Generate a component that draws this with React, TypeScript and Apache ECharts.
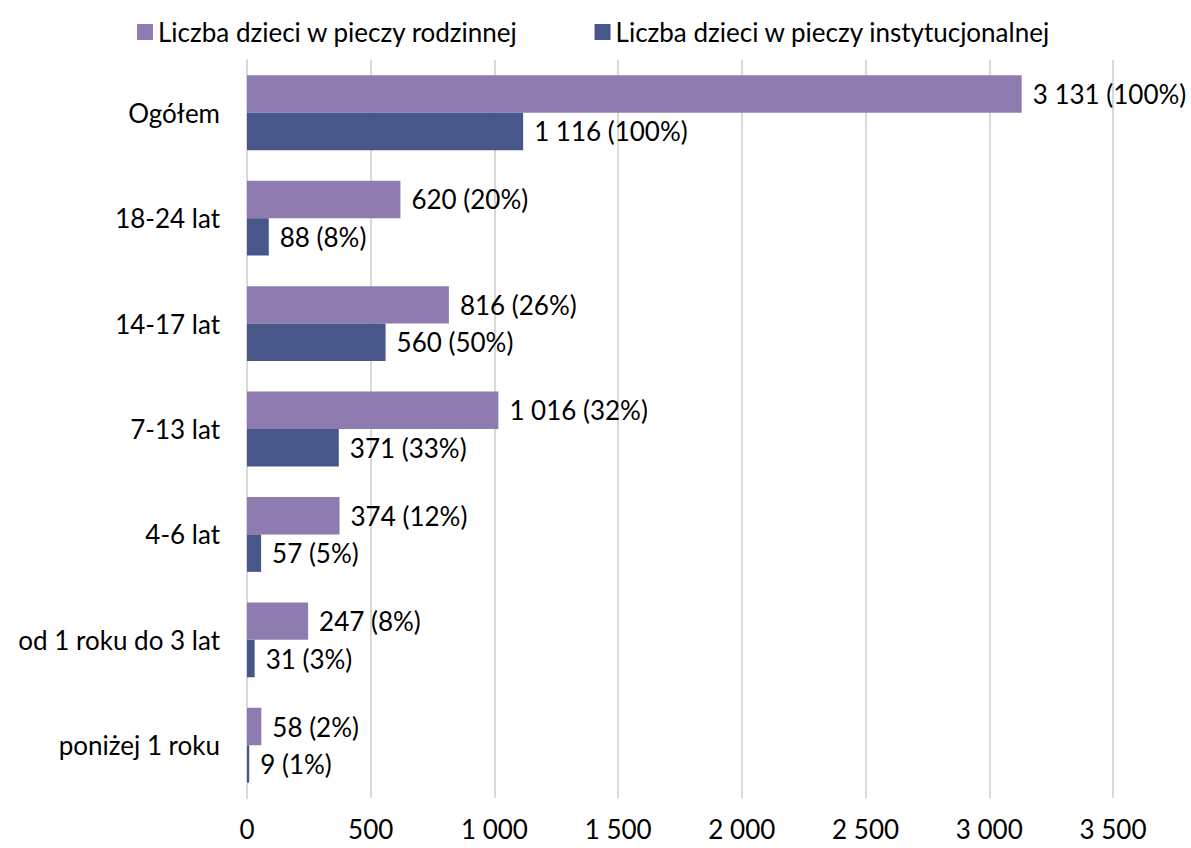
import React, { useEffect, useRef } from "react";
import * as echarts from "echarts";

const categories = ["Ogółem", "18-24 lat", "14-17 lat", "7-13 lat", "4-6 lat", "od 1 roku do 3 lat", "poniżej 1 roku"];
const familyValues = [3131, 620, 816, 1016, 374, 247, 58];
const familyPct = [100, 20, 26, 32, 12, 8, 2];
const instValues = [1116, 88, 560, 371, 57, 31, 9];
const instPct = [100, 8, 50, 33, 5, 3, 1];
const seriesNames = ["Liczba dzieci w pieczy rodzinnej", "Liczba dzieci w pieczy instytucjonalnej"];

const fmt = (v: number) => String(v).replace(/\B(?=(\d{3})+(?!\d))/g, " ");
const FONT = "Lato, 'Open Sans', sans-serif";
const FS = 26;

export default function App() {
  const ref = useRef<HTMLDivElement>(null);
  useEffect(() => {
    const chart = echarts.init(ref.current!, null, { renderer: "svg" });
    const mkLabel = (pcts: number[]) => ({
      show: true,
      position: "right" as const,
      distance: 11,
      color: "#000",
      fontSize: FS,
      fontFamily: FONT,
      formatter: (p: any) => `${fmt(p.value)} (${pcts[p.dataIndex]}%)`,
    });
    chart.setOption({
      animation: false,
      textStyle: { fontFamily: FONT },
      legend: {
        top: 14,
        left: 132,
        itemWidth: 16,
        itemHeight: 16,
        itemGap: 76,
        icon: "rect",
        textStyle: { fontSize: FS, color: "#000", fontFamily: FONT },
        data: seriesNames,
      },
      grid: { left: 247, right: 78, top: 60, bottom: 50, containLabel: false },
      xAxis: {
        type: "value",
        min: 0,
        max: 3500,
        interval: 500,
        axisLine: { show: false },
        axisTick: { show: false },
        splitLine: { show: true, lineStyle: { color: "#d9d9d9", width: 2 } },
        axisLabel: {
          margin: 18,
          fontSize: FS,
          color: "#000",
          fontFamily: FONT,
          formatter: (v: number) => fmt(v),
        },
      },
      yAxis: {
        type: "category",
        inverse: true,
        data: categories,
        axisLine: { show: true, lineStyle: { color: "#d9d9d9", width: 2 } },
        axisTick: { show: false },
        axisLabel: { margin: 27, fontSize: FS, color: "#000", fontFamily: FONT },
      },
      series: [
        {
          name: seriesNames[0],
          type: "bar",
          data: familyValues,
          itemStyle: { color: "#8e7bb0" },
          barGap: "0%",
          barCategoryGap: "29%",
          label: mkLabel(familyPct),
        },
        {
          name: seriesNames[1],
          type: "bar",
          data: instValues,
          itemStyle: { color: "#475789" },
          barGap: "0%",
          barCategoryGap: "29%",
          label: mkLabel(instPct),
        },
      ],
    });
    return () => chart.dispose();
  }, []);
  return <div ref={ref} style={{ position: "fixed", left: 0, top: 0, width: 1191, height: 848, background: "#fff" }} />;
}
